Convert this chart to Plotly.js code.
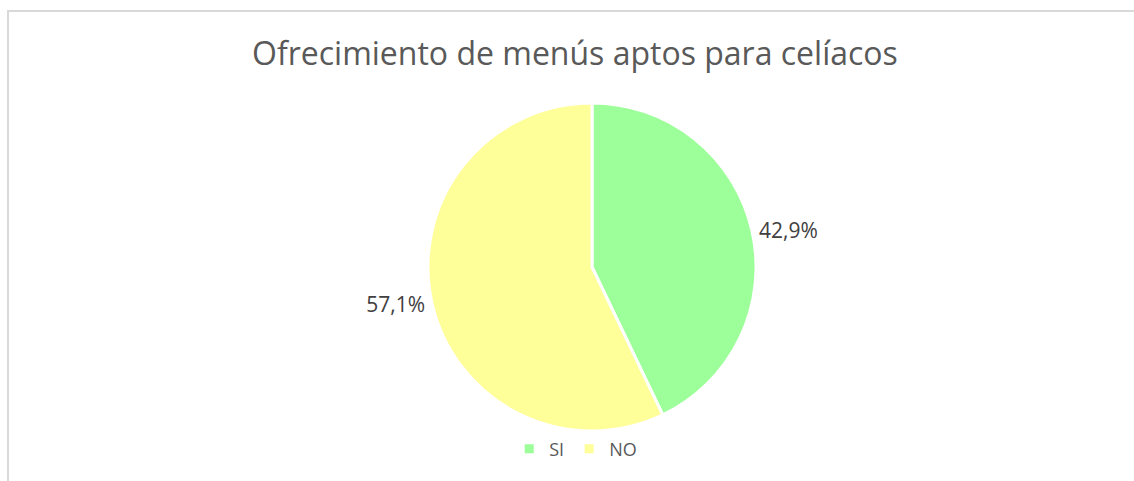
<!DOCTYPE html>
<html><head><meta charset="utf-8">
<script src="https://cdn.plot.ly/plotly-3.0.1.min.js"></script>
<style>
html,body{margin:0;padding:0;background:#fff;}
#frame{position:absolute;left:7px;top:10px;width:1130px;height:480px;border-top:2px solid #d9d9d9;border-left:2px solid #d9d9d9;box-sizing:border-box;pointer-events:none;z-index:5;}
#chart{position:absolute;left:0;top:0;width:1134px;height:481px;}
</style></head>
<body>
<div id="chart"></div><div id="frame"></div>
<script>
const categories = ["SI", "NO"];
const values = [42.9, 57.1];
const colors = ["#9DFF99", "#FFFF99"];
const titleText = "Ofrecimiento de menús aptos para celíacos";

Plotly.newPlot("chart", [{
  type: "pie",
  labels: categories,
  values: values,
  sort: false,
  direction: "clockwise",
  rotation: 0,
  marker: {colors: colors, line: {color: "#ffffff", width: 3}},
  textinfo: "percent",
  texttemplate: "%{percent:.1%}",
  textposition: "outside",
  outsidetextfont: {family: "Open Sans, sans-serif", size: 21, color: "#404040"},
  hoverinfo: "label+percent"
}], {
  width: 1134, height: 481,
  separators: ",.",
  margin: {l: 50, r: 0, t: 103, b: 50},
  paper_bgcolor: "#ffffff",
  title: {text: titleText, x: 0.507, xref: "container", y: 0.888, yref: "container", yanchor: "middle", xanchor: "center",
          font: {family: "Open Sans, sans-serif", size: 32, color: "#595959"}},
  showlegend: true,
  legend: {orientation: "h", x: 0.485, xanchor: "center", y: -0.055, yanchor: "middle",
           font: {family: "Open Sans, sans-serif", size: 18, color: "#595959"}, itemwidth: 30}
}, {displayModeBar: false});
</script>
</body></html>
